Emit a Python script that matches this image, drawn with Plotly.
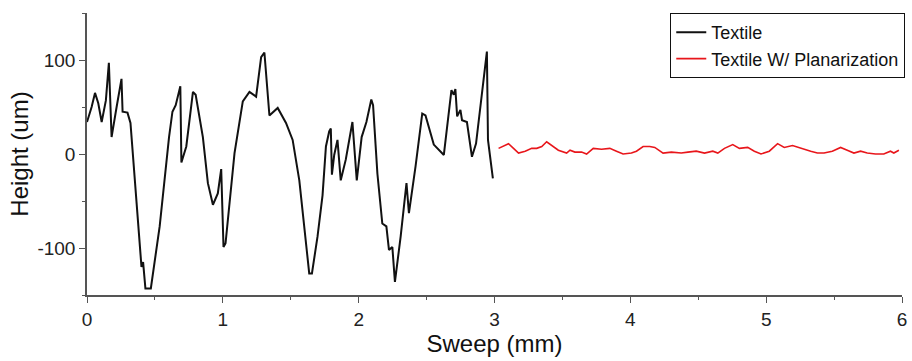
import plotly.graph_objects as go

textile_x = [0.0, 0.034, 0.059, 0.083, 0.108, 0.139, 0.161, 0.181, 0.218, 0.254, 0.262, 0.298, 0.32,
             0.352, 0.401, 0.413, 0.43, 0.47, 0.535, 0.604, 0.629, 0.653, 0.687, 0.695, 0.731, 0.78,
             0.80, 0.853, 0.89, 0.927, 0.963, 0.988, 1.005, 1.02, 1.086, 1.147, 1.196, 1.245, 1.282,
             1.306, 1.343, 1.404, 1.465, 1.514, 1.563, 1.636, 1.656, 1.697, 1.734, 1.759, 1.783, 1.795,
             1.803, 1.82, 1.844, 1.868, 1.905, 1.954, 1.986, 2.022, 2.057, 2.093, 2.106, 2.138, 2.174,
             2.204, 2.223, 2.248, 2.267, 2.309, 2.352, 2.37, 2.419, 2.468, 2.492, 2.553, 2.615, 2.627,
             2.683, 2.7, 2.712, 2.725, 2.749, 2.761, 2.797, 2.834, 2.864, 2.944, 2.952, 2.988]
textile_y = [34, 50, 65, 54, 34, 57, 97, 18, 50, 80, 45, 44, 33,
             -28, -120, -115, -143, -143, -77, 18, 45, 52, 72, -9, 8, 66,
             63, 18, -31, -54, -42, -16, -99, -95, 1, 56, 66, 61, 103,
             108, 41, 49, 33, 15, -28, -127, -127, -88, -44, 8, 24, 27,
             -22, -1, 15, -28, -6, 34, -28, 18, 34, 58, 52, -21, -74,
             -77, -102, -99, -136, -88, -31, -63, -13, 43, 41, 10, 1, -1,
             68, 63, 69, 40, 47, 36, 34, -3, 11, 109, 15, -26]

planar_x = [3.03, 3.06, 3.103, 3.14, 3.177, 3.226, 3.274, 3.311, 3.348, 3.384, 3.421, 3.47, 3.531,
            3.556, 3.592, 3.641, 3.678, 3.727, 3.788, 3.849, 3.898, 3.947, 4.008, 4.045, 4.094,
            4.143, 4.18, 4.241, 4.302, 4.375, 4.424, 4.485, 4.546, 4.607, 4.644, 4.693, 4.754,
            4.803, 4.864, 4.913, 4.962, 5.023, 5.084, 5.133, 5.194, 5.255, 5.328, 5.377, 5.426,
            5.487, 5.548, 5.597, 5.646, 5.695, 5.744, 5.805, 5.866, 5.915, 5.94, 5.977]
planar_y = [6, 8, 11, 6, 1, 3, 6, 6, 8, 13, 9, 4, 1,
            4, 2, 2, 0, 6, 5, 6, 3, 0, 1, 3, 8,
            8, 7, 1, 2, 1, 2, 3, 1, 3, 1, 6, 10,
            6, 7, 3, 0, 3, 11, 7, 9, 6, 3, 1, 1,
            3, 7, 4, 1, 3, 1, 0, 0, 3, 1, 4]

font_family = "Arial, Liberation Sans, sans-serif"
axis_grey = "#555555"

fig = go.Figure()
fig.add_trace(go.Scatter(x=textile_x, y=textile_y, mode="lines", name="Textile",
                         line=dict(color="#111111", width=2)))
fig.add_trace(go.Scatter(x=planar_x, y=planar_y, mode="lines", name="Textile W/ Planarization",
                         line=dict(color="#e8161b", width=1.6)))

fig.update_layout(
    width=912, height=361,
    margin=dict(l=87, r=7, t=13, b=66),
    plot_bgcolor="white", paper_bgcolor="white",
    font=dict(family=font_family, color="#111111"),
    showlegend=True,
    legend=dict(x=1.004, y=1.0, xanchor="right", yanchor="top",
                bgcolor="white", bordercolor="#111111", borderwidth=1,
                font=dict(size=18, family=font_family, color="#111111"),
                itemwidth=30, tracegroupgap=0),
    xaxis=dict(range=[0, 6], tickmode="linear", tick0=0, dtick=1,
               showline=True, linecolor=axis_grey, linewidth=1.5,
               ticks="outside", ticklen=6, tickcolor=axis_grey, tickwidth=1.2,
               minor=dict(dtick=0.5, ticks="outside", ticklen=3, tickcolor=axis_grey),
               showgrid=False, zeroline=False, automargin=False,
               ticklabeloverflow="allow",
               tickfont=dict(size=19, color="#222222"),
               title=dict(text="Sweep (mm)", font=dict(size=24, color="#111111"), standoff=0)),
    yaxis=dict(range=[-150, 150], tickmode="array", tickvals=[-100, 0, 100],
               ticktext=["-100", "0", "100"],
               showline=True, linecolor=axis_grey, linewidth=1.5,
               ticks="outside", ticklen=6, tickcolor=axis_grey, tickwidth=1.2,
               minor=dict(tickvals=[-150, -50, 50, 150], ticks="outside", ticklen=3, tickcolor=axis_grey),
               showgrid=False, zeroline=False, automargin=False,
               tickfont=dict(size=19, color="#222222"),
               title=dict(text="Height (um)", font=dict(size=24, color="#111111"), standoff=2)),
)

fig.write_html("out.html", config={"displayModeBar": False},
               post_script="document.body.style.margin='0px';")
